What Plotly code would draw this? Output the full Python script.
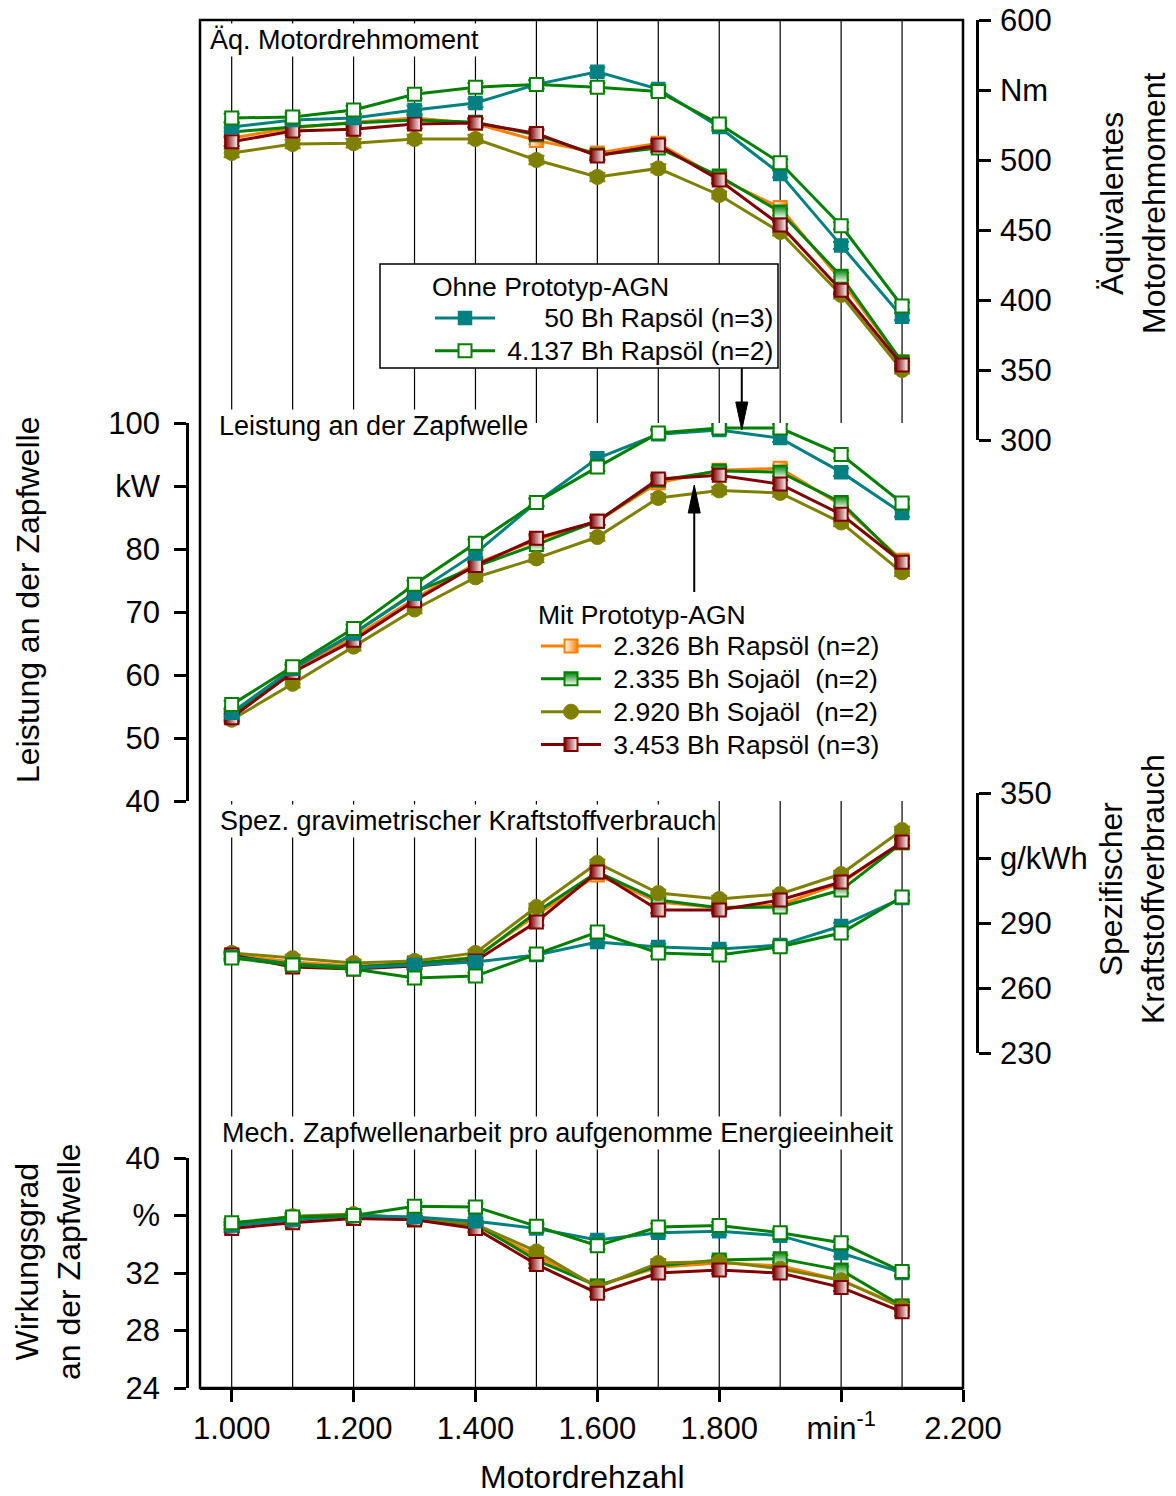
import plotly.graph_objects as go

# ---------------- data ----------------
rpm = [1000, 1100, 1200, 1300, 1400, 1500, 1600, 1700, 1800, 1900, 2000, 2100]

series_names = [
    "\u00a0\u00a0\u00a0\u00a0\u00a0\u00a050 Bh Rapsöl (n=3)",
    "\u00a04.137 Bh Rapsöl (n=2)",
    "\u00a02.326 Bh Rapsöl (n=2)",
    "\u00a02.335 Bh Sojaöl\u00a0\u00a0(n=2)",
    "\u00a02.920 Bh Sojaöl\u00a0\u00a0(n=2)",
    "\u00a03.453 Bh Rapsöl (n=3)",
]

# Äquivalentes Motordrehmoment [Nm]
torque_50_raps   = [523.6, 528.6, 530.0, 535.7, 540.7, 554.0, 563.0, 550.7, 523.6, 490.0, 439.0, 388.0]
torque_4137_raps = [530.0, 530.7, 535.7, 547.0, 552.0, 554.0, 552.0, 549.0, 525.7, 498.0, 453.0, 395.7]
torque_2326_raps = [515.7, 522.9, 527.0, 530.0, 526.0, 514.0, 505.0, 512.0, 487.0, 466.0, 414.0, 355.7]
torque_2335_soja = [520.0, 523.6, 526.4, 528.6, 527.0, 518.0, 503.6, 508.6, 488.6, 462.9, 417.0, 355.7]
torque_2920_soja = [505.0, 511.4, 512.0, 515.0, 515.0, 500.0, 487.9, 494.0, 475.0, 448.6, 403.6, 350.0]
torque_3453_raps = [513.0, 520.7, 522.0, 525.7, 526.4, 519.0, 502.9, 510.7, 485.7, 453.6, 407.0, 353.6]

# Leistung an der Zapfwelle [kW]
power_50_raps   = [54.0, 61.0, 66.6, 72.9, 79.3, 87.4, 94.4, 98.2, 98.9, 97.6, 92.2, 85.7]
power_4137_raps = [55.3, 61.3, 67.4, 74.4, 80.9, 87.4, 93.0, 98.4, 99.2, 99.2, 95.0, 87.3]
power_2326_raps = [53.4, 60.7, 66.0, 72.1, 77.7, 81.4, 84.4, 90.5, 92.5, 92.8, 87.0, 78.2]
power_2335_soja = [53.7, 61.0, 66.6, 73.1, 77.2, 80.7, 84.4, 90.9, 92.4, 92.2, 87.4, 77.9]
power_2920_soja = [52.9, 58.6, 64.5, 70.4, 75.5, 78.5, 81.9, 88.1, 89.3, 88.9, 84.2, 76.3]
power_3453_raps = [53.2, 60.4, 65.5, 71.8, 77.4, 81.7, 84.4, 91.1, 91.7, 90.3, 85.5, 77.9]

# Spezifischer Kraftstoffverbrauch [g/kWh]
sfc_50_raps   = [274.3, 271.0, 269.2, 270.6, 272.0, 275.2, 281.2, 278.9, 278.0, 279.8, 288.6, 301.5]
sfc_4137_raps = [273.8, 270.6, 268.8, 264.6, 265.5, 275.7, 285.8, 276.2, 275.2, 279.0, 285.4, 302.0]
sfc_2326_raps = [275.2, 272.0, 270.2, 271.0, 274.3, 293.7, 312.2, 299.7, 297.0, 298.3, 308.5, 327.0]
sfc_2335_soja = [274.8, 271.0, 269.7, 271.5, 273.8, 295.0, 313.5, 300.6, 297.0, 297.4, 305.2, 327.0]
sfc_2920_soja = [276.2, 273.8, 271.5, 272.5, 276.2, 297.4, 317.7, 303.8, 301.1, 303.4, 312.6, 332.9]
sfc_3453_raps = [275.2, 269.7, 268.8, 270.2, 272.5, 290.5, 313.5, 296.0, 296.0, 300.6, 308.9, 327.4]

# Wirkungsgrad an der Zapfwelle [%]
eff_50_raps   = [35.3, 35.7, 36.0, 35.9, 35.6, 35.1, 34.3, 34.8, 34.9, 34.6, 33.4, 32.0]
eff_4137_raps = [35.5, 35.9, 36.0, 36.65, 36.6, 35.25, 33.9, 35.2, 35.3, 34.8, 34.1, 32.1]
eff_2326_raps = [35.2, 35.6, 35.9, 35.7, 35.3, 33.2, 31.1, 32.4, 32.7, 32.5, 31.5, 29.7]
eff_2335_soja = [35.3, 35.8, 36.0, 35.7, 35.4, 32.9, 31.1, 32.5, 32.9, 33.0, 32.2, 29.7]
eff_2920_soja = [35.4, 35.95, 36.1, 35.8, 35.4, 33.5, 31.0, 32.7, 32.8, 32.3, 31.5, 29.6]
eff_3453_raps = [35.1, 35.5, 35.8, 35.7, 35.1, 32.6, 30.6, 32.0, 32.2, 32.0, 31.0, 29.3]

# small standard deviations (error bars)
torque_err = [3, 3, 3, 3, 3, 3, 3, 3, 2.5, 2.5, 2.5, 2.5]
power_err  = [0.6, 0.6, 0.6, 0.6, 0.6, 0.6, 0.6, 0.6, 0.6, 0.6, 0.6, 0.6]
sfc_err    = [1.5, 1.5, 1.5, 1.5, 1.5, 1.5, 1.5, 1.5, 1.5, 1.5, 1.5, 1.5]
eff_err    = [0.25, 0.25, 0.25, 0.25, 0.25, 0.25, 0.25, 0.25, 0.25, 0.25, 0.25, 0.25]

x_tickvals = [1000, 1200, 1400, 1600, 1800, 2000, 2200]
x_ticktext = ["1.000", "1.200", "1.400", "1.600", "1.800", "min<sup>-1</sup>", "2.200"]

tq_tickvals = [300, 350, 400, 450, 500, 550, 600]
tq_ticktext = ["300", "350", "400", "450", "500", "Nm", "600"]
pw_tickvals = [40, 50, 60, 70, 80, 90, 100]
pw_ticktext = ["40", "50", "60", "70", "80", "kW", "100"]
sf_tickvals = [230, 260, 290, 320, 350]
sf_ticktext = ["230", "260", "290", "g/kWh", "350"]
ef_tickvals = [24, 28, 32, 36, 40]
ef_ticktext = ["24", "28", "32", "%", "40"]

# ---------------- styling ----------------
FONT = "Liberation Sans, Arial, sans-serif"
TEAL, GREEN, ORANGE, OLIVE, DRED = "#008080", "#008000", "#FF8000", "#808000", "#800000"

styles = [
    dict(color=TEAL, marker=dict(symbol="square", size=13, color=TEAL, line=dict(color=TEAL, width=1.5)), legend="legend"),
    dict(color=GREEN, marker=dict(symbol="square", size=13, color="white", line=dict(color=GREEN, width=2)), legend="legend"),
    dict(color=ORANGE, marker=dict(symbol="square", size=13, color="white", gradient=dict(type="horizontal", color=ORANGE),
                                   line=dict(color=ORANGE, width=2)), legend="legend2"),
    dict(color=GREEN, marker=dict(symbol="square", size=13, color=GREEN, gradient=dict(type="vertical", color="white"),
                                  line=dict(color=GREEN, width=2)), legend="legend2"),
    dict(color=OLIVE, marker=dict(symbol="circle", size=15, color=OLIVE, line=dict(color=OLIVE, width=1)), legend="legend2"),
    dict(color=DRED, marker=dict(symbol="square", size=13, color=DRED, gradient=dict(type="horizontal", color="white"),
                                 line=dict(color=DRED, width=2)), legend="legend2"),
]

panels = [
    ("y4", [torque_50_raps, torque_4137_raps, torque_2326_raps, torque_2335_soja, torque_2920_soja, torque_3453_raps], torque_err),
    ("y3", [power_50_raps, power_4137_raps, power_2326_raps, power_2335_soja, power_2920_soja, power_3453_raps], power_err),
    ("y2", [sfc_50_raps, sfc_4137_raps, sfc_2326_raps, sfc_2335_soja, sfc_2920_soja, sfc_3453_raps], sfc_err),
    ("y", [eff_50_raps, eff_4137_raps, eff_2326_raps, eff_2335_soja, eff_2920_soja, eff_3453_raps], eff_err),
]

# draw order: Mit-series first, then the reference series on top
order = [2, 3, 4, 5, 0, 1]

LEGEND_TEXT_PX = 26.5

fig = go.Figure()
for p_i, (yax, values, err) in enumerate(panels):
    for s in order:
        st = styles[s]
        fig.add_trace(go.Scatter(
            x=rpm, y=values[s], xaxis="x", yaxis=yax,
            mode="lines+markers",
            name=f'<span style="font-size:{LEGEND_TEXT_PX}px">{series_names[s]}</span>',
            legend=st["legend"],
            legendrank=s,
            showlegend=(p_i == 0),
            line=dict(color=st["color"], width=3),
            marker=st["marker"],
            error_y=dict(type="data", array=err, visible=True, color=st["color"], thickness=2, width=8),
        ))

# ---------------- layout geometry ----------------
W, H = 1176, 1496
ML, MR, MT, MB = 187, 199, 20, 108
PW, PH = W - ML - MR, H - MT - MB


def px_x(px):
    return (px - ML) / PW


def px_y(py):
    return (H - MB - py) / PH


xdom = [px_x(200), px_x(963)]

axis_common = dict(showline=True, linecolor="black", linewidth=2.5, ticks="outside", ticklen=12,
                   tickwidth=2.5, tickcolor="black", showgrid=False, zeroline=False,
                   tickfont=dict(family=FONT, size=31, color="black"), anchor="free")

LEGEND_FONT = 23  # controls row spacing; visible text uses LEGEND_TEXT_PX

fig.update_layout(
    width=W, height=H,
    margin=dict(l=ML, r=MR, t=MT, b=MB, autoexpand=False),
    paper_bgcolor="white", plot_bgcolor="white",
    font=dict(family=FONT, color="black", size=27),
    xaxis=dict(domain=xdom, range=[948, 2200], anchor="free", position=0,
               showline=True, linecolor="black", linewidth=2.5, ticks="outside", ticklen=12, tickwidth=2.5,
               tickcolor="black", tickvals=x_tickvals, ticktext=x_ticktext, showgrid=False, zeroline=False,
               tickfont=dict(family=FONT, size=31, color="black")),
    yaxis=dict(domain=[0, px_y(1158)], range=[24, 40], side="left", position=0, ticklabelstandoff=8,
               tickvals=ef_tickvals, ticktext=ef_ticktext, **axis_common),
    yaxis2=dict(domain=[px_y(1053), px_y(793)], range=[230, 350], side="right", position=1, ticklabelstandoff=3,
                tickvals=sf_tickvals, ticktext=sf_ticktext, **axis_common),
    yaxis3=dict(domain=[px_y(801), px_y(423)], range=[40, 100], side="left", position=0, ticklabelstandoff=8,
                tickvals=pw_tickvals, ticktext=pw_ticktext, **axis_common),
    yaxis4=dict(domain=[px_y(440), 1.0], range=[300, 600], side="right", position=1, ticklabelstandoff=3,
                tickvals=tq_tickvals, ticktext=tq_ticktext, **axis_common),
    legend=dict(x=px_x(430), y=px_y(262), xanchor="left", yanchor="top", bgcolor="rgba(0,0,0,0)",
                borderwidth=0, font=dict(family=FONT, size=LEGEND_FONT), itemwidth=60, tracegroupgap=0,
                title=dict(text="Ohne Prototyp-AGN", font=dict(family=FONT, size=LEGEND_TEXT_PX))),
    legend2=dict(x=px_x(536), y=px_y(590), xanchor="left", yanchor="top", bgcolor="rgba(0,0,0,0)",
                 borderwidth=0, font=dict(family=FONT, size=LEGEND_FONT), itemwidth=60, tracegroupgap=0,
                 title=dict(text="Mit Prototyp-AGN", font=dict(family=FONT, size=LEGEND_TEXT_PX))),
)

# vertical grid lines at every measured speed
shapes = []
for r in rpm:
    shapes.append(dict(type="line", xref="x", yref="paper", x0=r, x1=r, y0=0, y1=1,
                       line=dict(color="black", width=1.2), layer="below"))
# legend boxes (white, covering the grid)
for (x0, x1, y0, y1) in [(380, 778, 264, 368), (488, 885, 592, 765)]:
    shapes.append(dict(type="rect", xref="paper", yref="paper", x0=px_x(x0), x1=px_x(x1),
                       y0=px_y(y1), y1=px_y(y0), fillcolor="white", line=dict(color="black", width=1.5),
                       layer="below"))
# plot frame
shapes.append(dict(type="rect", xref="paper", yref="paper", x0=xdom[0], x1=xdom[1], y0=0, y1=1,
                   line=dict(color="black", width=2.5), fillcolor="rgba(0,0,0,0)", layer="above"))

# arrows from the legend boxes to the curve groups (pixel-sized paths anchored at the tip)
arrows = [(1837, 430, 62, 1), (1759, 485, 107, -1)]  # tip x (rpm), tip y (px), length px, direction (+1 = tail above)
for ax_x, tip_py, length, d in arrows:
    shapes.append(dict(type="path", xref="x", yref="paper", xsizemode="pixel", ysizemode="pixel",
                       xanchor=ax_x, yanchor=px_y(tip_py),
                       path=f"M0,{d*20} L0,{d*length}",
                       line=dict(color="black", width=2), layer="above"))
    shapes.append(dict(type="path", xref="x", yref="paper", xsizemode="pixel", ysizemode="pixel",
                       xanchor=ax_x, yanchor=px_y(tip_py),
                       path=f"M0,0 L-6,{d*28} L6,{d*28} Z",
                       fillcolor="black", line=dict(color="black", width=1), layer="above"))
fig.update_layout(shapes=shapes)

annotations = []
# panel titles
for text, lx, cy in [("Äq. Motordrehmoment", 208, 40),
                     ("Leistung an der Zapfwelle", 217, 426),
                     ("Spez. gravimetrischer Kraftstoffverbrauch", 218, 821),
                     ("Mech. Zapfwellenarbeit pro aufgenomme Energieeinheit", 220, 1133)]:
    annotations.append(dict(text=text, xref="paper", yref="paper", x=px_x(lx), y=px_y(cy),
                            xanchor="left", yanchor="middle", showarrow=False, bgcolor="white",
                            borderpad=1, font=dict(family=FONT, size=27)))
# axis titles
for text, cx, cy, ang in [("Leistung an der Zapfwelle", 28, 600, -90),
                          ("Wirkungsgrad<br>an der Zapfwelle", 48, 1262, -90),
                          ("Äquivalentes<br>Motordrehmoment", 1133, 203, -90),
                          ("Spezifischer<br>Kraftstoffverbrauch", 1132, 889, -90),
                          ("Motordrehzahl", 582, 1477, 0)]:
    annotations.append(dict(text=text, xref="paper", yref="paper", x=px_x(cx), y=px_y(cy),
                            xanchor="center", yanchor="middle", showarrow=False, textangle=ang,
                            font=dict(family=FONT, size=32)))
fig.update_layout(annotations=annotations)

fig.write_html("out.html")
